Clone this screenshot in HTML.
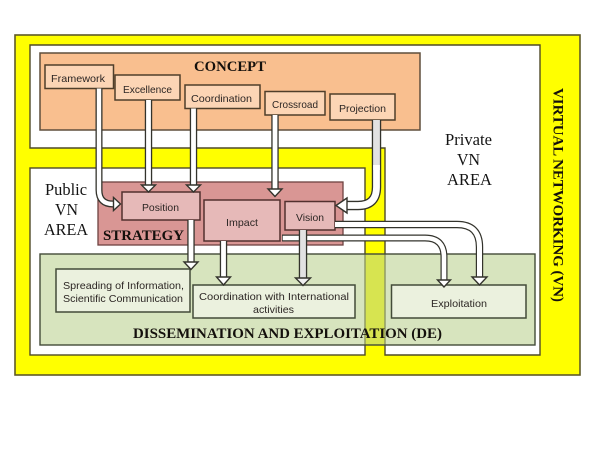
<!DOCTYPE html>
<html>
<head>
<meta charset="utf-8">
<style>
html,body{margin:0;padding:0;background:#fff;width:600px;height:450px;overflow:hidden}
svg{display:block}
.c{stroke:#4f3e2a;stroke-width:1.5}
.o{fill:none;stroke:#33332c}
.w{fill:none;stroke:#fff}
.g{fill:none;stroke:#e2e2e2}
.h{fill:#fff;stroke:#33332c;stroke-width:1.4;stroke-linejoin:miter}
.t{font-family:"Liberation Sans",sans-serif;font-size:10.5px;fill:#2c2624}
.s{font-family:"Liberation Serif",serif;font-weight:bold;font-size:14.5px;fill:#14100c}
.p{font-family:"Liberation Serif",serif;font-size:16.5px;fill:#141414}
</style>
</head>
<body>
<svg width="600" height="450" viewBox="0 0 600 450" xmlns="http://www.w3.org/2000/svg">
<rect width="600" height="450" fill="#fff"/>
<rect x="15" y="35" width="565" height="340" fill="#ffff00" stroke="#5f5a28" stroke-width="1.6"/>
<path d="M30 45H540V355H385V148H30Z" fill="#fff" stroke="#4f4a28" stroke-width="1.4"/>
<rect x="30" y="168" width="335" height="187" fill="#fff" stroke="#4f4a28" stroke-width="1.4"/>

<rect x="40" y="53" width="380" height="77" fill="#f9bf8f" stroke="#5f4e3c" stroke-width="1.5"/>
<rect x="98" y="182" width="245" height="63" fill="#d99694" stroke="#6e4240" stroke-width="1.3"/>
<rect x="40" y="254" width="495" height="91" fill="rgba(185,208,140,.57)" stroke="#434b38" stroke-width="1.4"/>

<rect class="c" x="45" y="65" width="68.5" height="23.5" fill="#fcd5b5"/>
<rect class="c" x="115" y="75" width="65" height="25" fill="#fcd5b5"/>
<rect class="c" x="185" y="85" width="75" height="23.5" fill="#fcd5b5"/>
<rect class="c" x="265" y="91.500" width="60" height="23.5" fill="#fcd5b5"/>
<rect class="c" x="330" y="94" width="65" height="26" fill="#fcd5b5"/>

<rect class="c" x="122" y="192" width="78" height="28" fill="#e6b9b8" style="stroke:#52302e"/>
<rect class="c" x="204" y="200" width="76" height="41" fill="#e6b9b8" style="stroke:#52302e"/>
<rect class="c" x="285" y="201.500" width="50" height="28.5" fill="#e6b9b8" style="stroke:#52302e"/>

<rect class="c" x="56" y="269" width="134" height="43" fill="#ebf1de" style="stroke:#434b38"/>
<rect class="c" x="193" y="285" width="162" height="33" fill="#ebf1de" style="stroke:#434b38"/>
<rect class="c" x="391.500" y="285" width="134.500" height="33" fill="#ebf1de" style="stroke:#434b38"/>

<!-- Framework to Position -->
<path class="o" stroke-width="7" d="M99 88.500V190Q99 204 113 204H115"/>
<path class="w" stroke-width="4.4" d="M99 88.500V190Q99 204 113 204H116"/>
<polygon class="h" points="120.500,204 113.500,197.500 113.500,210.500"/>
<!-- Excellence -->
<path class="o" stroke-width="7.4" d="M148.500 100V185"/>
<path class="w" stroke-width="4.8" d="M148.500 100V186"/>
<polygon class="h" points="148.500,192 141.500,185 155.500,185"/>
<!-- Coordination -->
<path class="o" stroke-width="7.4" d="M193.500 108.500V185"/>
<path class="w" stroke-width="4.8" d="M193.500 108.500V186"/>
<polygon class="h" points="193.500,192 186.500,185 200.500,185"/>
<!-- Crossroad -->
<path class="o" stroke-width="7.4" d="M275 115V189"/>
<path class="w" stroke-width="4.8" d="M275 115V190"/>
<polygon class="h" points="275,196.500 268,189 282,189"/>
<!-- Projection to Vision -->
<path class="o" stroke-width="9.4" d="M376.500 120V187Q376.500 205.500 358 205.500H347"/>
<path class="g" stroke-width="6.800" d="M376.500 120V170"/>
<path class="w" stroke-width="6.800" d="M376.500 165V187Q376.500 205.500 358 205.500H346"/>
<polygon class="h" points="336,205.500 347,198 347,213"/>
<!-- Position down -->
<path class="o" stroke-width="7.4" d="M191 220V262"/>
<path class="w" stroke-width="4.800" d="M191 220V263"/>
<polygon class="h" points="191,269.500 184,262 198,262"/>
<!-- Impact down -->
<path class="o" stroke-width="7.4" d="M223.500 241V277"/>
<path class="w" stroke-width="4.800" d="M223.500 241V278"/>
<polygon class="h" points="223.500,285 216.500,277 230.500,277"/>
<!-- Impact/Vision to Exploitation (left) -->
<path class="o" stroke-width="7" d="M282 238H425Q444 238 444 257V280"/>
<path class="w" stroke-width="4.600" d="M282.700 238H425Q444 238 444 257V281"/>
<polygon class="h" points="444,287 437.500,280 450.500,280"/>
<!-- Vision to Exploitation (right) -->
<path class="o" stroke-width="7.4" d="M335 224.500H457Q479.500 224.500 479.500 247V277"/>
<path class="w" stroke-width="5" d="M335 224.500H457Q479.500 224.500 479.500 247V278"/>
<polygon class="h" points="479.500,285 472,277 487,277"/>
<!-- Vision down -->
<path class="o" stroke-width="8.4" d="M303 230V278"/>
<path class="g" stroke-width="5.800" d="M303 230V279"/>
<polygon class="h" points="303,285.500 295.500,278 310.500,278" style="fill:#f0f0f0"/>

<!-- Labels -->
<text class="t" x="51" y="82" textLength="54" lengthAdjust="spacingAndGlyphs">Framework</text>
<text class="t" x="123" y="93" textLength="49" lengthAdjust="spacingAndGlyphs">Excellence</text>
<text class="t" x="191" y="102" textLength="61" lengthAdjust="spacingAndGlyphs">Coordination</text>
<text class="t" x="272" y="108" textLength="46" lengthAdjust="spacingAndGlyphs">Crossroad</text>
<text class="t" x="339" y="112" textLength="47" lengthAdjust="spacingAndGlyphs">Projection</text>
<text class="t" x="142" y="211" textLength="37" lengthAdjust="spacingAndGlyphs">Position</text>
<text class="t" x="226" y="226" textLength="32" lengthAdjust="spacingAndGlyphs">Impact</text>
<text class="t" x="296" y="221" textLength="28" lengthAdjust="spacingAndGlyphs">Vision</text>
<text class="t" x="63" y="289" textLength="121" lengthAdjust="spacingAndGlyphs">Spreading of Information,</text>
<text class="t" x="63" y="302" textLength="120" lengthAdjust="spacingAndGlyphs">Scientific Communication</text>
<text class="t" x="199" y="300" textLength="150" lengthAdjust="spacingAndGlyphs">Coordination with International</text>
<text class="t" x="253" y="313" textLength="41" lengthAdjust="spacingAndGlyphs">activities</text>
<text class="t" x="431" y="307" textLength="56" lengthAdjust="spacingAndGlyphs">Exploitation</text>

<text class="s" x="194" y="71" textLength="72" lengthAdjust="spacingAndGlyphs">CONCEPT</text>
<text class="s" x="103" y="240" textLength="81" lengthAdjust="spacingAndGlyphs">STRATEGY</text>
<text class="s" x="133" y="338" textLength="309" lengthAdjust="spacingAndGlyphs">DISSEMINATION AND EXPLOITATION (DE)</text>
<text class="s" transform="translate(553.500 88) rotate(90)" x="0" y="0" textLength="214" lengthAdjust="spacingAndGlyphs">VIRTUAL NETWORKING (VN)</text>

<text class="p" x="445" y="145" textLength="47" lengthAdjust="spacingAndGlyphs">Private</text>
<text class="p" x="457" y="165" textLength="23" lengthAdjust="spacingAndGlyphs">VN</text>
<text class="p" x="447" y="185" textLength="45" lengthAdjust="spacingAndGlyphs">AREA</text>
<text class="p" x="45" y="195" textLength="42" lengthAdjust="spacingAndGlyphs">Public</text>
<text class="p" x="55" y="215" textLength="23" lengthAdjust="spacingAndGlyphs">VN</text>
<text class="p" x="44" y="235" textLength="44" lengthAdjust="spacingAndGlyphs">AREA</text>
</svg>
</body>
</html>
